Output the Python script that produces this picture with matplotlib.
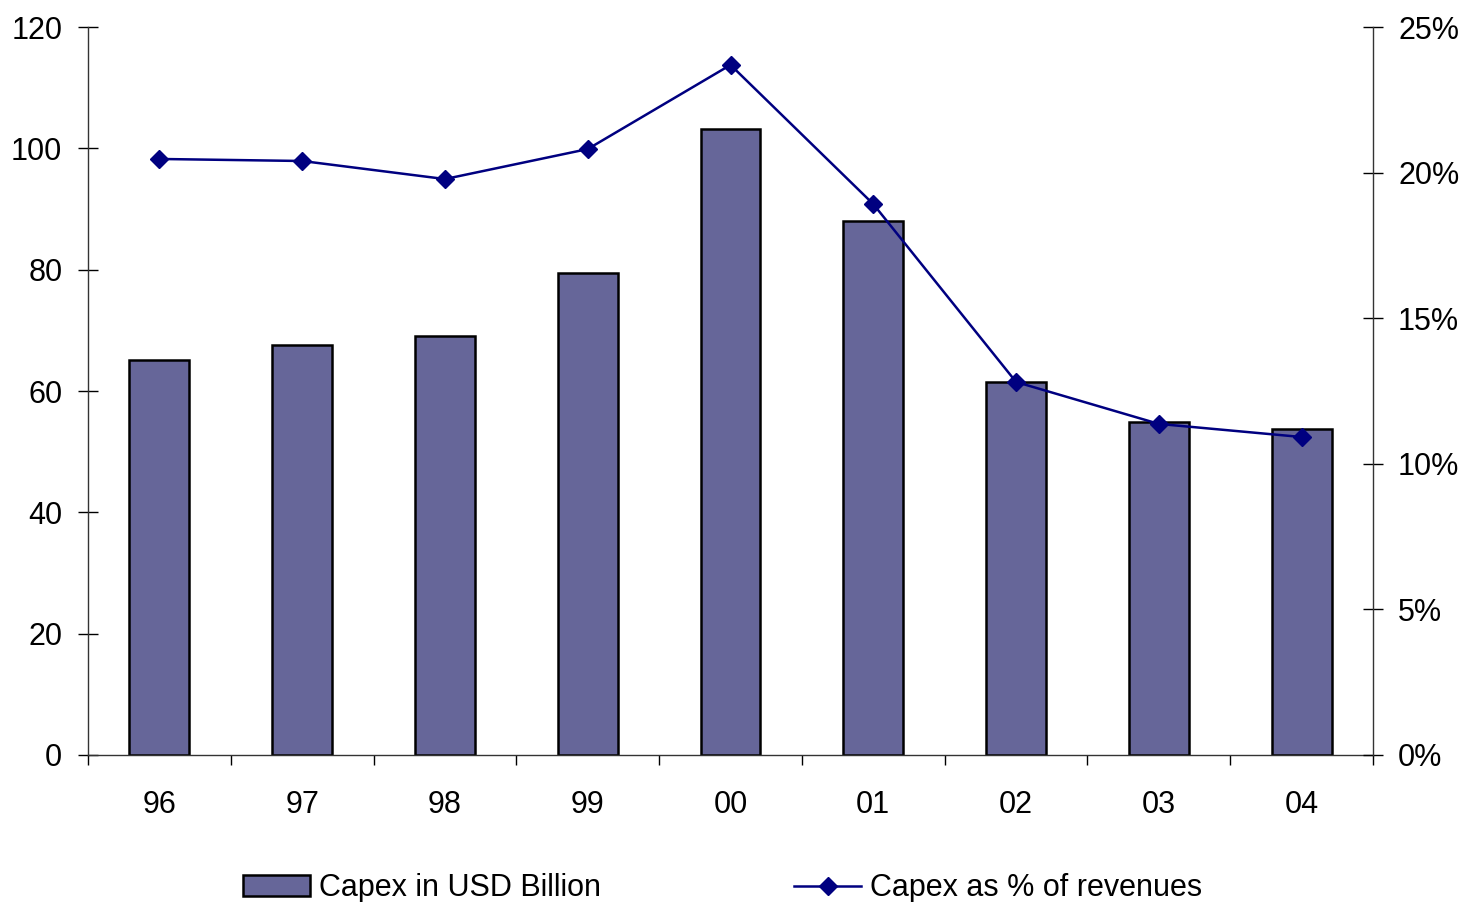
import numpy as np
import matplotlib.pyplot as plt
from matplotlib.ticker import FuncFormatter

plt.rcParams['font.family'] = ['Liberation Sans', 'DejaVu Sans']

# years and values
years = ['96', '97', '98', '99', '00', '01', '02', '03', '04']
capex_bn = [65.1, 67.6, 69.1, 79.4, 103.2, 88.0, 61.5, 54.9, 53.7]
capex_pct = [20.47, 20.4, 19.78, 20.81, 23.7, 18.92, 12.81, 11.37, 10.92]

bar_color = '#666699'
line_color = '#000080'
fs = 22

fig = plt.figure(figsize=(14.66, 9.02), dpi=100)
ax = fig.add_axes([0.060, 0.163, 0.8766, 0.807])
x = np.arange(len(years))

ax.bar(x, capex_bn, width=0.42, color=bar_color, edgecolor='black', linewidth=1.8,
       label='Capex in USD Billion', zorder=2)
ax.set_xlim(-0.5, len(years) - 0.5)
ax.set_ylim(0, 120)
ax.set_yticks(np.arange(0, 121, 20))
ax.set_xticks(x)
ax.set_xticklabels(years)
ax.set_xticks(np.arange(-0.5, len(years)), minor=True)
ax.tick_params(axis='x', which='major', length=0, pad=25, labelsize=fs)
ax.tick_params(axis='x', which='minor', length=7, direction='out', width=1)
ax.tick_params(axis='y', direction='inout', length=14, width=1, pad=11.5, labelsize=fs)

ax2 = ax.twinx()
ax2.plot(x, capex_pct, color=line_color, lw=1.8, marker='D', markersize=9,
         label='Capex as % of revenues')
ax2.set_ylim(0, 25)
ax2.set_yticks(np.arange(0, 26, 5))
ax2.yaxis.set_major_formatter(FuncFormatter(lambda v, p: f'{v:.0f}%'))
ax2.tick_params(axis='y', direction='inout', length=14, width=1, pad=11, labelsize=fs)

for a in (ax, ax2):
    a.spines['top'].set_visible(False)
    for s in ('left', 'right', 'bottom'):
        a.spines[s].set_linewidth(1)
        a.spines[s].set_color('#333333')
ax.spines['right'].set_visible(False)
ax2.spines['left'].set_visible(False)
ax2.spines['bottom'].set_visible(False)

h1, l1 = ax.get_legend_handles_labels()
h2, l2 = ax2.get_legend_handles_labels()
fig.legend(h1 + h2, l1 + l2, loc='center', bbox_to_anchor=(0.493, 0.015), ncol=2,
           frameon=False, fontsize=fs, handlelength=2.2, handletextpad=0.3,
           columnspacing=6.3)

fig.savefig('out.png', dpi=100)
